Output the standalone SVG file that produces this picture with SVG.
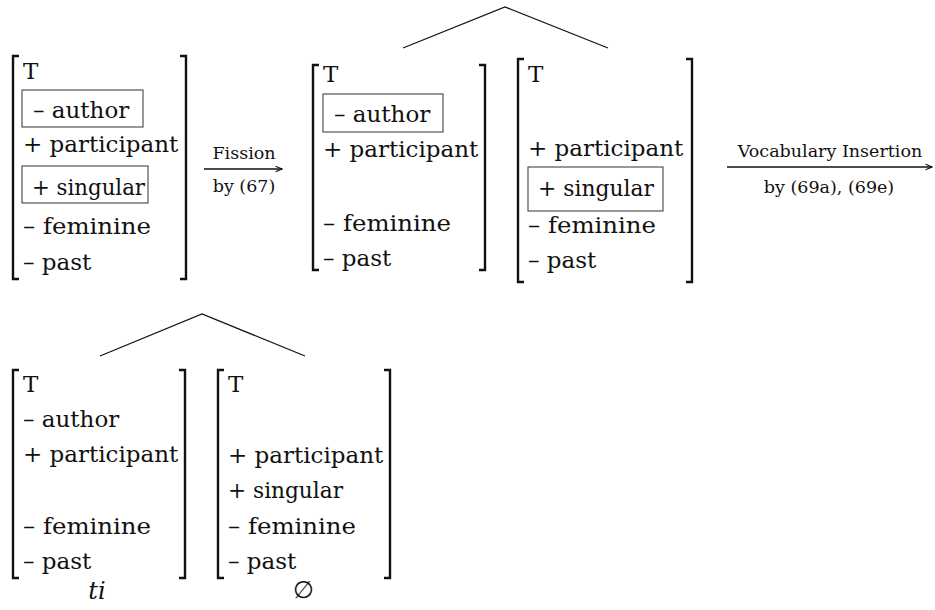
<svg xmlns="http://www.w3.org/2000/svg" width="935" height="610" viewBox="0 0 935 610">
  <style>
    .feat { font-family: "DejaVu Serif", "Liberation Serif", serif; font-size: 23px; fill: #111; }
    .lbl { font-family: "DejaVu Serif", "Liberation Serif", serif; font-size: 17.5px; fill: #111; text-anchor: middle; }
    .exp { font-family: "DejaVu Serif", "Liberation Serif", serif; font-size: 24px; fill: #111; text-anchor: middle; }
    .brk { fill: none; stroke: #111; stroke-width: 2.4; }
    .box { fill: none; stroke: #444; stroke-width: 1.1; }
    .edge { fill: none; stroke: #111; stroke-width: 1.2; }
    .arr { fill: none; stroke: #111; stroke-width: 1.3; marker-end: url(#head); }
  </style>
  <defs>
    <marker id="head" viewBox="0 0 10 10" refX="9" refY="5" markerWidth="8" markerHeight="8" markerUnits="userSpaceOnUse" orient="auto">
      <path d="M1,1.5 L9,5 L1,8.5" fill="none" stroke="#111" stroke-width="1.3"/>
    </marker>
  </defs>

  <!-- input feature bundle -->
  <g id="m1">
    <path class="brk" d="M19,56 H13 V279 H19"/>
    <path class="brk" d="M180,56 H186 V279 H180"/>
    <rect class="box" x="22" y="90" width="121" height="37"/>
    <rect class="box" x="22" y="166" width="126" height="37"/>
    <text class="feat" x="23" y="79">T</text>
    <text class="feat" x="33" y="118">– author</text>
    <text class="feat" x="23" y="152">+ participant</text>
    <text class="feat" x="32" y="195" textLength="113" lengthAdjust="spacingAndGlyphs">+ singular</text>
    <text class="feat" x="23" y="234" textLength="128" lengthAdjust="spacingAndGlyphs">– feminine</text>
    <text class="feat" x="23" y="270">– past</text>
  </g>

  <!-- after fission: left daughter -->
  <g id="m2">
    <path class="brk" d="M319,65 H313 V270 H319"/>
    <path class="brk" d="M479,65 H485 V270 H479"/>
    <rect class="box" x="323" y="94" width="120" height="38"/>
    <text class="feat" x="323" y="82">T</text>
    <text class="feat" x="334" y="122">– author</text>
    <text class="feat" x="323" y="157">+ participant</text>
    <text class="feat" x="323" y="231" textLength="128" lengthAdjust="spacingAndGlyphs">– feminine</text>
    <text class="feat" x="323" y="266">– past</text>
  </g>

  <!-- after fission: right daughter -->
  <g id="m3">
    <path class="brk" d="M524,59 H518 V282 H524"/>
    <path class="brk" d="M686,59 H692 V282 H686"/>
    <rect class="box" x="528" y="167" width="135" height="44"/>
    <text class="feat" x="528" y="82">T</text>
    <text class="feat" x="528" y="156">+ participant</text>
    <text class="feat" x="538" y="196" textLength="116" lengthAdjust="spacingAndGlyphs">+ singular</text>
    <text class="feat" x="528" y="233" textLength="128" lengthAdjust="spacingAndGlyphs">– feminine</text>
    <text class="feat" x="528" y="268">– past</text>
  </g>

  <!-- after insertion: left exponent -->
  <g id="m4">
    <path class="brk" d="M19,370 H13 V578 H19"/>
    <path class="brk" d="M179,370 H185 V578 H179"/>
    <text class="feat" x="23" y="392">T</text>
    <text class="feat" x="23" y="427">– author</text>
    <text class="feat" x="23" y="462">+ participant</text>
    <text class="feat" x="23" y="534" textLength="128" lengthAdjust="spacingAndGlyphs">– feminine</text>
    <text class="feat" x="23" y="569">– past</text>
    <text class="exp" x="97" y="599" font-style="italic">ti</text>
  </g>

  <!-- after insertion: right exponent -->
  <g id="m5">
    <path class="brk" d="M224,370 H218 V578 H224"/>
    <path class="brk" d="M384,370 H390 V578 H384"/>
    <text class="feat" x="228" y="392">T</text>
    <text class="feat" x="228" y="463">+ participant</text>
    <text class="feat" x="228" y="498" textLength="115" lengthAdjust="spacingAndGlyphs">+ singular</text>
    <text class="feat" x="228" y="534" textLength="128" lengthAdjust="spacingAndGlyphs">– feminine</text>
    <text class="feat" x="228" y="569">– past</text>
    <text class="exp" x="303" y="598" font-size="20">∅</text>
  </g>

  <!-- connectors: tree branches and derivation arrows -->
  <g id="connectors">
    <path class="edge" d="M403,48 L505,7 L608,48"/>
    <path class="edge" d="M100,356 L202,314 L305,356"/>
    <path class="arr" d="M204,169 H282"/>
    <text class="lbl" x="244" y="159">Fission</text>
    <text class="lbl" x="244" y="192">by (67)</text>
    <path class="arr" d="M727,167 H932"/>
    <text class="lbl" x="830" y="157">Vocabulary Insertion</text>
    <text class="lbl" x="829" y="193">by (69a), (69e)</text>
  </g>
</svg>
